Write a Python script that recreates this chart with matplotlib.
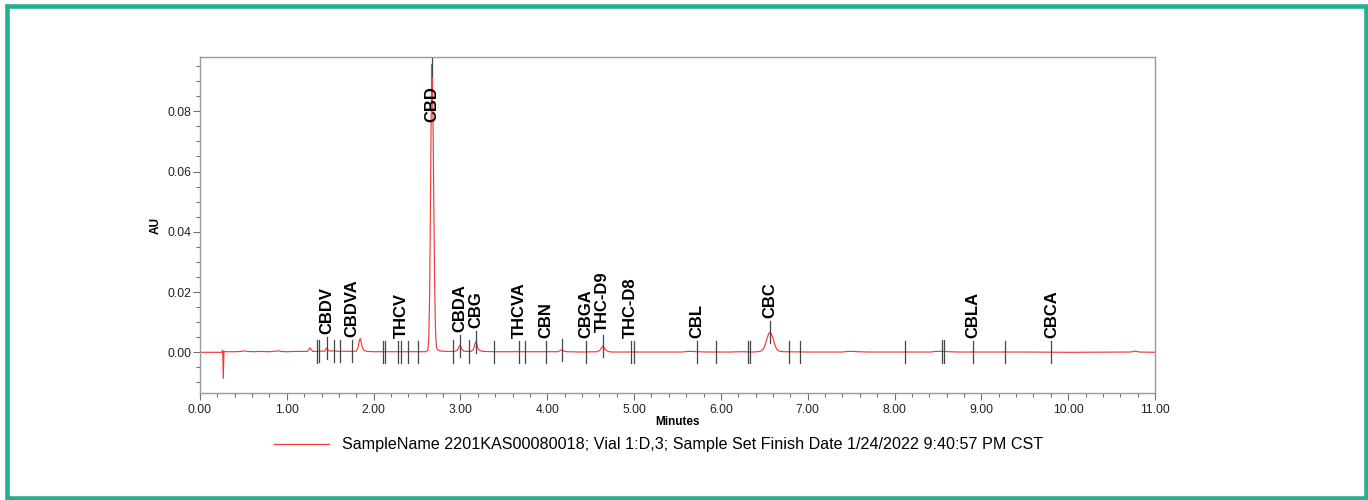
import numpy as np
import matplotlib
matplotlib.use("Agg")
import matplotlib.pyplot as plt
from matplotlib.ticker import MultipleLocator, FormatStrFormatter
from matplotlib.patches import Rectangle

plt.rcParams['font.family'] = ['Liberation Sans', 'DejaVu Sans']

# chromatogram trace (minutes, AU)
time_min = [0.00, 0.25, 0.262, 0.268, 0.276, 0.29, 0.40, 0.48, 0.51, 0.54, 0.62, 0.70,
            0.80, 0.88, 0.90, 0.93, 1.00, 1.10, 1.20, 1.24, 1.258, 1.267, 1.277, 1.30,
            1.35, 1.40, 1.44, 1.452, 1.459, 1.468, 1.49, 1.55, 1.60, 1.65, 1.72, 1.80,
            1.82, 1.835, 1.845, 1.855, 1.87, 1.89, 1.93, 2.00, 2.20, 2.40, 2.58, 2.60,
            2.625, 2.635, 2.645, 2.655, 2.662, 2.668, 2.672, 2.677, 2.685, 2.693, 2.702,
            2.712, 2.722, 2.735, 2.75, 2.78, 2.85, 2.93, 2.96, 2.975, 2.987, 2.995, 3.005,
            3.02, 3.04, 3.07, 3.12, 3.145, 3.16, 3.17, 3.177, 3.186, 3.20, 3.22, 3.26,
            3.40, 3.70, 4.00, 4.12, 4.15, 4.166, 4.185, 4.22, 4.40, 4.58, 4.61, 4.628,
            4.640, 4.652, 4.67, 4.70, 4.74, 5.00, 5.30, 5.55, 5.62, 5.66, 5.72, 5.85,
            6.10, 6.25, 6.35, 6.42, 6.46, 6.49, 6.51, 6.53, 6.55, 6.565, 6.58, 6.60, 6.62,
            6.64, 6.67, 6.72, 7.00, 7.40, 7.46, 7.52, 7.58, 7.70, 8.00, 8.42, 8.47, 8.55,
            8.62, 8.75, 9.50, 10.00, 10.72, 10.77, 10.82, 11.00]
signal_au = [0.0000, 0.0000, 0.0006, -0.0087, 0.0004, 0.0002, 0.0002, 0.0003, 0.0005, 0.0003,
             0.0002, 0.0003, 0.0002, 0.0004, 0.0005, 0.0003, 0.0002, 0.0003, 0.0003, 0.0003,
             0.0011, 0.0015, 0.0010, 0.0003, 0.0003, 0.0004, 0.0004, 0.0012, 0.0014, 0.0010,
             0.0004, 0.0005, 0.0003, 0.0004, 0.0003, 0.0004, 0.0016, 0.0038, 0.0046, 0.0036,
             0.0015, 0.0006, 0.0003, 0.0002, 0.0002, 0.0002, 0.0002, 0.0002, 0.0007, 0.0046,
             0.0189, 0.0503, 0.0765, 0.0921, 0.0955, 0.0919, 0.0736, 0.0483, 0.0238, 0.0081,
             0.0020, 0.0009, 0.0006, 0.0004, 0.0003, 0.0003, 0.0006, 0.0013, 0.0021, 0.0024,
             0.0019, 0.0009, 0.0004, 0.0003, 0.0003, 0.0008, 0.0020, 0.0031, 0.0035, 0.0029,
             0.0014, 0.0006, 0.0003, 0.0002, 0.0002, 0.0002, 0.0002, 0.0006, 0.0008, 0.0005,
             0.0002, 0.0001, 0.0002, 0.0008, 0.0016, 0.0021, 0.0017, 0.0008, 0.0003, 0.0001,
             0.0001, 0.0001, 0.0001, 0.0003, 0.0003, 0.0002, 0.0001, 0.0001, 0.0002, 0.0001,
             0.0002, 0.0004, 0.0011, 0.0025, 0.0045, 0.0062, 0.0067, 0.0062, 0.0047, 0.0026,
             0.0012, 0.0004, 0.0002, 0.0001, 0.0001, 0.0003, 0.0003, 0.0002, 0.0001, 0.0001,
             0.0001, 0.0003, 0.0003, 0.0002, 0.0001, 0.0001, 0.0000, 0.0001, 0.0004, 0.0001,
             0.0000]

# integration / retention time markers
marker_rt = [1.344, 1.374, 1.459, 1.547, 1.613, 1.754, 2.104, 2.131, 2.277, 2.315, 2.399,
             2.507, 2.672, 2.918, 2.990, 3.095, 3.177, 3.390, 3.674, 3.740, 3.982, 4.166,
             4.449, 4.640, 4.960, 4.995, 5.724, 5.942, 6.311, 6.331, 6.565, 6.780, 6.909,
             8.115, 8.551, 8.567, 8.898, 9.267, 9.807]

peak_names = ['CBDV', 'CBDVA', 'THCV', 'CBD', 'CBDA', 'CBG', 'THCVA', 'CBN', 'CBGA',
              'THC-D9', 'THC-D8', 'CBL', 'CBC', 'CBLA', 'CBCA']
peak_rt = [1.459, 1.754, 2.315, 2.672, 2.990, 3.177, 3.674, 3.982, 4.449, 4.640, 4.960,
           5.724, 6.565, 8.898, 9.807]

legend_text = 'SampleName 2201KAS00080018; Vial 1:D,3; Sample Set Finish Date 1/24/2022 9:40:57 PM CST'

trace_color = '#f23a3a'
axis_gray = '#9a9a9a'

fig = plt.figure(figsize=(13.68, 5), dpi=100)
ax = fig.add_axes([200/1368, 1-393/500, 955/1368, 336/500])

line, = ax.plot(time_min, signal_au, color=trace_color, lw=0.85, label=legend_text)

# marker ticks sit on the trace
half = 0.0037
for rt in marker_rt:
    h = np.interp(rt, time_min, signal_au)
    ax.plot([rt, rt], [h - half, h + half], color='#454545', lw=0.9)

for name, rt in zip(peak_names, peak_rt):
    h = np.interp(rt, time_min, signal_au)
    y = min(h + half + 0.0009, 0.0765)
    ax.text(rt, y, name, rotation=90, ha='center', va='bottom',
            fontsize=12, fontweight='bold', color='black')

ax.set_xlim(0, 11)
ax.set_ylim(-0.0135, 0.098)
ax.xaxis.set_major_locator(MultipleLocator(1))
ax.xaxis.set_minor_locator(MultipleLocator(0.2))
ax.yaxis.set_major_locator(MultipleLocator(0.02))
ax.yaxis.set_minor_locator(MultipleLocator(0.005))
ax.xaxis.set_major_formatter(FormatStrFormatter('%.2f'))
ax.yaxis.set_major_formatter(FormatStrFormatter('%.2f'))

ax.tick_params(which='both', direction='out', color='#707070', width=0.8,
               labelsize=8.7, labelcolor='#222222')
ax.tick_params(which='major', length=5)
ax.tick_params(which='minor', length=2.6)
ax.tick_params(axis='y', pad=1)
ax.tick_params(axis='x', pad=3)
for s in ax.spines.values():
    s.set_color(axis_gray)
    s.set_linewidth(1)

ax.set_xlabel('Minutes', fontsize=8.5, fontweight='bold', labelpad=0)
ax.set_ylabel('AU', fontsize=8.5, fontweight='bold', labelpad=4)

ax.legend(handles=[line], loc='center left', bbox_to_anchor=(274/1368, 1-445/500),
          bbox_transform=fig.transFigure, frameon=False, fontsize=11.6,
          handlelength=3.4, handletextpad=0.8, borderpad=0, borderaxespad=0)

# teal frame around the whole picture
fig.patches.append(Rectangle((7/1368, 2.5/500), 1358.5/1368, 491.5/500,
                             transform=fig.transFigure, fill=False,
                             edgecolor='#22b08e', lw=3.3))

fig.savefig('out.png', dpi=100)
